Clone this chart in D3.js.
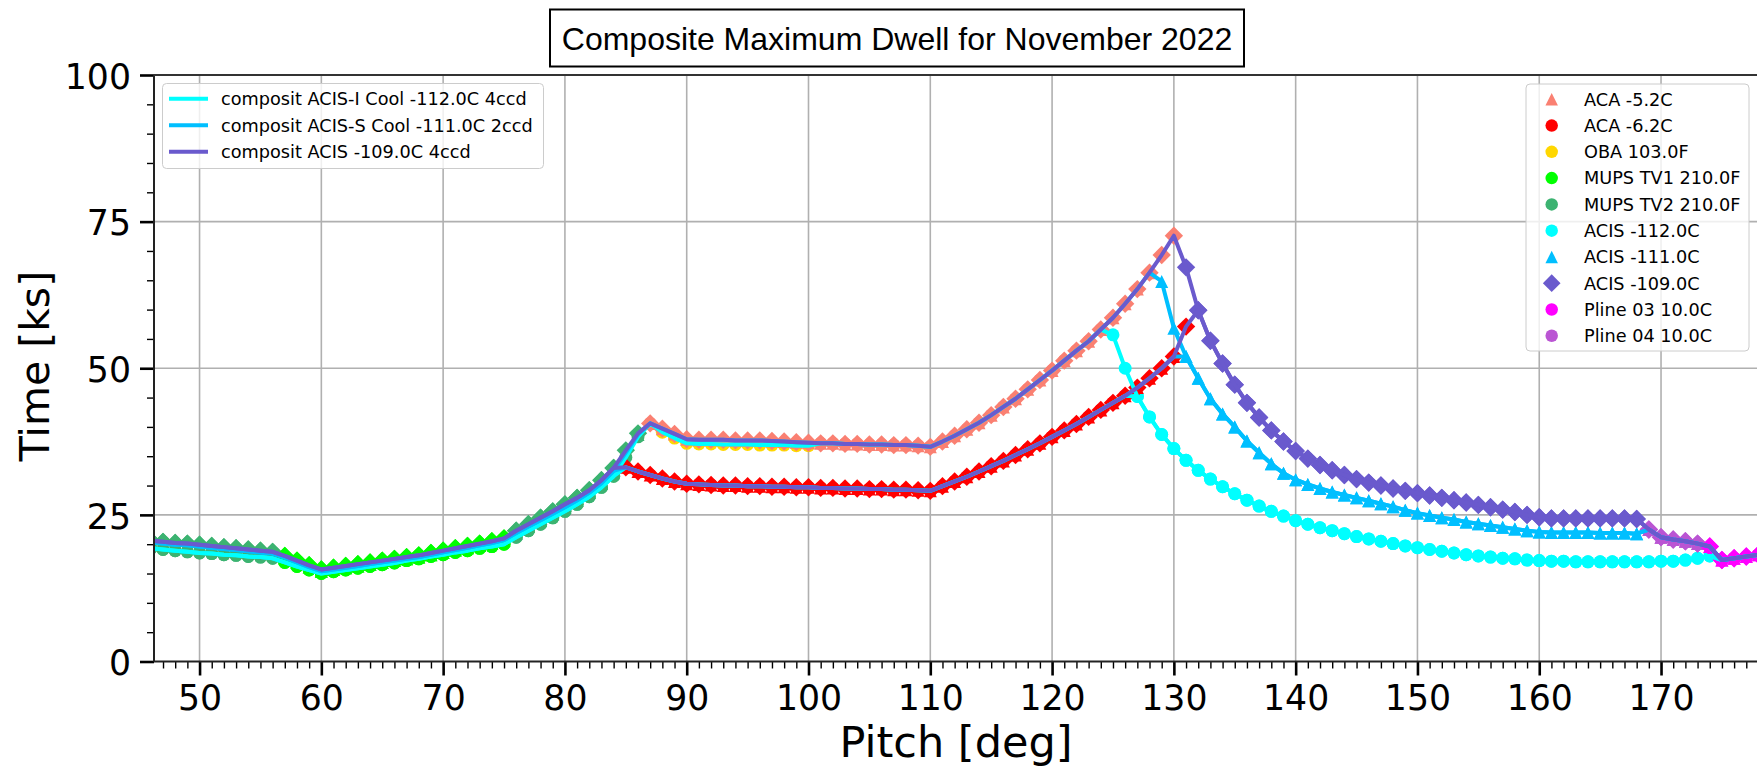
<!DOCTYPE html>
<html>
<head>
  <style>
    body { margin: 0; background: #fff; }
    svg text { font-family: "DejaVu Sans", sans-serif; fill: #000; }
  </style>
</head>
<body>
  <script src="https://d3js.org/d3.v7.min.js"></script>
  <script>
    // ---- data (time in ks per pitch degree) ----
    const mups112Start = 46;
    const mups112 = [19.3, 19.1, 18.9, 18.7, 18.5, 18.4, 18.2, 18.1, 17.9, 17.8, 17.6, 16.9, 16.2, 15.6, 15.0,
      15.3, 15.6, 15.9, 16.2, 16.5, 16.8, 17.2, 17.5, 17.9, 18.2, 18.6, 18.9, 19.3, 19.6, 20.0,
      21.2, 22.3, 23.4, 24.5, 25.6, 26.8, 28.1, 29.7, 31.6, 34.8, 38.3];
    const mups111Start = 46;
    const mups111 = [20.3, 20.1, 19.9, 19.8, 19.6, 19.4, 19.2, 19.0, 18.8, 18.6, 18.4, 17.7, 16.9, 16.1, 15.4,
      15.7, 16.0, 16.3, 16.6, 16.9, 17.2, 17.5, 17.8, 18.2, 18.6, 19.0, 19.4, 19.8, 20.2, 20.7,
      21.9, 23.0, 24.1, 25.2, 26.3, 27.5, 28.8, 30.4, 32.5, 35.6, 38.7];
    const mups109Start = 46;
    const mups109 = [20.6, 20.4, 20.2, 20.1, 19.9, 19.7, 19.5, 19.3, 19.1, 18.9, 18.7, 18.0, 17.2, 16.4, 15.7,
      16.0, 16.3, 16.6, 16.9, 17.2, 17.5, 17.8, 18.1, 18.5, 18.9, 19.3, 19.7, 20.1, 20.5, 21.0,
      22.3, 23.4, 24.5, 25.6, 26.8, 27.9, 29.2, 30.9, 33.0, 36.0, 38.9];
    const acaWarmStart = 87;
    const acaWarm = [40.6, 39.7, 38.8, 37.9, 37.8, 37.8, 37.8, 37.7, 37.7, 37.7, 37.6, 37.5, 37.4, 37.3,
      37.2, 37.2, 37.1, 37.1, 37.0, 37.0, 36.9, 36.9, 36.8, 36.6, 37.5, 38.5, 39.6, 40.7, 42.0,
      43.4, 44.8, 46.4, 48.0, 49.6, 51.3, 53.0, 54.6, 56.6, 58.6, 61.0, 63.5, 66.3, 69.3, 72.6];
    const obaStart = 88;
    const oba = [39.1, 38.1, 37.2, 37.1, 37.1, 37.0, 37.0, 37.0, 36.9, 36.9, 36.9, 36.8, 36.8];
    const acaColdStart = 85;
    const acaCold = [33.1, 32.4, 31.8, 31.2, 30.7, 30.3, 30.2, 30.1, 30.0, 30.0, 29.9, 29.9, 29.8, 29.8,
      29.7, 29.7, 29.6, 29.6, 29.5, 29.5, 29.4, 29.4, 29.3, 29.3, 29.2, 29.1, 29.9, 30.7, 31.5,
      32.4, 33.3, 34.2, 35.2, 36.2, 37.2, 38.3, 39.4, 40.5, 41.7, 42.9, 44.1, 45.3, 46.7, 48.3,
      50.0, 52.0, 57.1];
    const acis112Start = 125;
    const acis112 = [55.7, 50.0, 45.2, 41.7, 38.7, 36.3, 34.3, 32.6, 31.1, 29.8, 28.6, 27.5, 26.5, 25.6,
      24.8, 24.0, 23.4, 22.8, 22.3, 21.8, 21.3, 20.9, 20.5, 20.1, 19.7, 19.4, 19.1, 18.8, 18.5,
      18.2, 18.0, 17.8, 17.6, 17.5, 17.3, 17.2, 17.1, 17.1, 17.0, 17.0, 17.0, 17.0, 17.0, 17.0,
      17.0, 17.1, 17.1, 17.3, 17.6, 18.0];
    const acis111Start = 129;
    const acis111 = [64.8, 56.8, 52.0, 48.3, 44.8, 42.2, 40.0, 37.6, 35.6, 33.7, 32.1, 31.0, 30.2, 29.5,
      28.9, 28.4, 27.9, 27.4, 26.9, 26.4, 25.8, 25.3, 24.9, 24.5, 24.2, 23.8, 23.5, 23.2, 22.9,
      22.6, 22.3, 22.1, 22.0, 22.0, 22.0, 22.0, 21.9, 21.9, 21.9, 21.8];
    const acis109Start = 131;
    const acis109 = [67.2, 59.9, 54.7, 50.8, 47.2, 44.1, 41.6, 39.4, 37.5, 35.9, 34.6, 33.5, 32.6, 31.8,
      31.1, 30.5, 30.0, 29.5, 29.1, 28.7, 28.3, 27.9, 27.5, 27.1, 26.7, 26.3, 25.9, 25.5, 25.0,
      24.6, 24.4, 24.4, 24.4, 24.4, 24.4, 24.4, 24.4, 24.3];
    const plineStart = 169;
    const pline = [22.5, 21.2, 20.8, 20.5, 20.1, 19.6, 17.3, 17.6, 17.9, 18.2, 18.5];

    // which limit sets each composite over which pitch range: [limit, source, from, to]
    const seg112Warm = [["MUPS TV2 210.0F", "mups112", 46, 56], ["MUPS TV1 210.0F", "mups112", 57, 75],
      ["MUPS TV2 210.0F", "mups112", 76, 86], ["ACA -5.2C", "acaWarm", 87, 87], ["OBA 103.0F", "oba", 88, 100],
      ["ACA -5.2C", "acaWarm", 101, 124], ["ACIS -112.0C", "acis112", 125, 174], ["Pline 03 10.0C", "pline", 175, 179]];
    const seg112Cold = [["MUPS TV2 210.0F", "mups112", 46, 56], ["MUPS TV1 210.0F", "mups112", 57, 75],
      ["MUPS TV2 210.0F", "mups112", 76, 84], ["ACA -6.2C", "acaCold", 85, 126],
      ["ACIS -112.0C", "acis112", 127, 174], ["Pline 03 10.0C", "pline", 175, 179]];
    const seg111Warm = [["MUPS TV2 210.0F", "mups111", 46, 56], ["MUPS TV1 210.0F", "mups111", 57, 75],
      ["MUPS TV2 210.0F", "mups111", 76, 86], ["ACA -5.2C", "acaWarm", 87, 128], ["ACIS -111.0C", "acis111", 129, 168],
      ["Pline 04 10.0C", "pline", 169, 173], ["Pline 03 10.0C", "pline", 174, 179]];
    const seg111Cold = [["MUPS TV2 210.0F", "mups111", 46, 56], ["MUPS TV1 210.0F", "mups111", 57, 75],
      ["MUPS TV2 210.0F", "mups111", 76, 84], ["ACA -6.2C", "acaCold", 85, 130], ["ACIS -111.0C", "acis111", 131, 168],
      ["Pline 04 10.0C", "pline", 169, 173], ["Pline 03 10.0C", "pline", 174, 179]];
    const seg109Warm = [["MUPS TV2 210.0F", "mups109", 46, 56], ["MUPS TV1 210.0F", "mups109", 57, 75],
      ["MUPS TV2 210.0F", "mups109", 76, 86], ["ACA -5.2C", "acaWarm", 87, 130], ["ACIS -109.0C", "acis109", 131, 168],
      ["Pline 04 10.0C", "pline", 169, 173], ["Pline 03 10.0C", "pline", 174, 179]];
    const seg109Cold = [["MUPS TV2 210.0F", "mups109", 46, 56], ["MUPS TV1 210.0F", "mups109", 57, 75],
      ["MUPS TV2 210.0F", "mups109", 76, 84], ["ACA -6.2C", "acaCold", 85, 131], ["ACIS -109.0C", "acis109", 132, 168],
      ["Pline 04 10.0C", "pline", 169, 173], ["Pline 03 10.0C", "pline", 174, 179]];

    const limitLabels = ["ACA -5.2C", "ACA -6.2C", "OBA 103.0F", "MUPS TV1 210.0F", "MUPS TV2 210.0F",
      "ACIS -112.0C", "ACIS -111.0C", "ACIS -109.0C", "Pline 03 10.0C", "Pline 04 10.0C"];
    const limitColors = ["#FA8072", "#FF0000", "#FFD700", "#00FF00", "#3CB371",
      "#00FFFF", "#00BFFF", "#6A5ACD", "#FF00FF", "#BA55D3"];
    const limitShapes = ["triangle", "circle", "circle", "circle", "circle",
      "circle", "triangle", "diamond", "circle", "circle"];
    const compLabels = ["composit ACIS-I Cool -112.0C 4ccd", "composit ACIS-S Cool -111.0C 2ccd", "composit ACIS -109.0C 4ccd"];
    const compColors = ["#00FFFF", "#00BFFF", "#6A5ACD"];
    const xTicks = [50, 60, 70, 80, 90, 100, 110, 120, 130, 140, 150, 160, 170];
    const yTicks = [0, 25, 50, 75, 100];

    // ---- layout ----
    const W = 1757, H = 767;
    const pLeft = 154, pRight = 1757, pTop = 75, pBottom = 661.5;

    const sources = {
      mups112: [mups112Start, mups112], mups111: [mups111Start, mups111], mups109: [mups109Start, mups109],
      acaWarm: [acaWarmStart, acaWarm], oba: [obaStart, oba], acaCold: [acaColdStart, acaCold],
      acis112: [acis112Start, acis112], acis111: [acis111Start, acis111], acis109: [acis109Start, acis109],
      pline: [plineStart, pline]
    };
    const colorOf = d3.scaleOrdinal(limitLabels, limitColors);

    const xScale = d3.scaleLinear().domain([46.26, 177.88]).range([pLeft, pRight]);
    const yScale = d3.scaleLinear().domain([0, 100]).range([pBottom, pTop]);

    const svg = d3.select("body").append("svg").attr("width", W).attr("height", H);

    svg.append("defs").append("clipPath").attr("id", "plotclip")
      .append("rect").attr("x", pLeft).attr("y", pTop).attr("width", pRight - pLeft).attr("height", pBottom - pTop);

    // grid
    const grid = svg.append("g").attr("stroke", "#b0b0b0").attr("stroke-width", 1.6);
    grid.selectAll(".gx").data(xTicks).join("line")
      .attr("x1", d => xScale(d)).attr("x2", d => xScale(d)).attr("y1", pTop).attr("y2", pBottom);
    grid.selectAll(".gy").data(yTicks.slice(1, -1)).join("line")
      .attr("x1", pLeft).attr("x2", pRight).attr("y1", d => yScale(d)).attr("y2", d => yScale(d));

    function markerPath(shape, s) {
      const r = s / 2;
      if (shape === "circle") return d3.symbol(d3.symbolCircle, Math.PI * r * r)();
      if (shape === "triangle") return "M0," + (-r) + "L" + r + "," + r + "L" + (-r) + "," + r + "Z";
      const d = r * Math.SQRT2;
      return "M0," + (-d) + "L" + d + ",0L0," + d + "L" + (-d) + ",0Z";
    }

    function buildPoints(segs) {
      const pts = [];
      segs.forEach(([label, key, from, to]) => {
        const [start, vals] = sources[key];
        for (let p = from; p <= to; p++) pts.push({ p: p, v: vals[p - start], label: label });
      });
      return pts;
    }

    const composites = [
      { segs: seg112Warm, shape: "circle", color: compColors[0] },
      { segs: seg112Cold, shape: "circle", color: compColors[0] },
      { segs: seg111Warm, shape: "triangle", color: compColors[1] },
      { segs: seg111Cold, shape: "triangle", color: compColors[1] },
      { segs: seg109Warm, shape: "diamond", color: compColors[2] },
      { segs: seg109Cold, shape: "diamond", color: compColors[2] }
    ];
    composites.forEach(c => c.points = buildPoints(c.segs));

    const plotArea = svg.append("g").attr("clip-path", "url(#plotclip)");

    // markers coloured by the limiting constraint
    composites.forEach(c => {
      plotArea.append("g").selectAll("path").data(c.points).join("path")
        .attr("d", markerPath(c.shape, 13))
        .attr("transform", d => "translate(" + xScale(d.p) + "," + yScale(d.v) + ")")
        .attr("fill", d => colorOf(d.label));
    });

    // composite lines
    const line = d3.line().x(d => xScale(d.p)).y(d => yScale(d.v));
    composites.forEach(c => {
      plotArea.append("path").datum(c.points)
        .attr("d", line).attr("fill", "none")
        .attr("stroke", c.color).attr("stroke-width", 4).attr("stroke-linejoin", "round");
    });

    // axes
    const xAxis = d3.axisBottom(xScale).tickValues(xTicks).tickSize(14).tickPadding(10).tickSizeOuter(0);
    const gx = svg.append("g").attr("transform", "translate(0," + pBottom + ")").call(xAxis);
    gx.select(".domain").remove();
    gx.selectAll(".tick line").attr("stroke-width", 2.6);
    gx.selectAll("text").attr("font-size", 34.7).attr("font-family", "DejaVu Sans");

    const xMinor = d3.range(47, 178).filter(d => d % 10 !== 0);
    const gxm = svg.append("g").attr("transform", "translate(0," + pBottom + ")")
      .call(d3.axisBottom(xScale).tickValues(xMinor).tickSize(7).tickFormat("").tickSizeOuter(0));
    gxm.select(".domain").remove();
    gxm.selectAll(".tick line").attr("stroke-width", 1.4);

    const yAxis = d3.axisLeft(yScale).tickValues(yTicks).tickSize(14).tickPadding(9).tickSizeOuter(0);
    const gy = svg.append("g").attr("transform", "translate(" + pLeft + ",0)").call(yAxis);
    gy.select(".domain").remove();
    gy.selectAll(".tick line").attr("stroke-width", 2.6);
    gy.selectAll("text").attr("font-size", 34.7).attr("font-family", "DejaVu Sans").attr("dy", "0.38em");

    const yMinor = [5, 10, 15, 20, 30, 35, 40, 45, 55, 60, 65, 70, 80, 85, 90, 95];
    const gym = svg.append("g").attr("transform", "translate(" + pLeft + ",0)")
      .call(d3.axisLeft(yScale).tickValues(yMinor).tickSize(7).tickFormat("").tickSizeOuter(0));
    gym.select(".domain").remove();
    gym.selectAll(".tick line").attr("stroke-width", 1.4);

    // spines
    const spines = svg.append("g").attr("stroke", "#222").attr("stroke-width", 2);
    spines.append("line").attr("x1", pLeft).attr("x2", pLeft).attr("y1", pTop).attr("y2", pBottom);
    spines.append("line").attr("x1", pLeft).attr("x2", pRight).attr("y1", pBottom).attr("y2", pBottom);
    spines.append("line").attr("x1", pLeft).attr("x2", pRight).attr("y1", pTop).attr("y2", pTop).attr("stroke", "#333");

    // axis titles
    svg.append("text").attr("x", 956).attr("y", 757).attr("text-anchor", "middle")
      .attr("font-size", 43).text("Pitch [deg]");
    svg.append("text").attr("transform", "translate(49,366) rotate(-90)").attr("text-anchor", "middle")
      .attr("font-size", 41).text("Time [ks]");

    // title box
    svg.append("rect").attr("x", 550).attr("y", 9.5).attr("width", 694).attr("height", 57)
      .attr("fill", "#fff").attr("stroke", "#000").attr("stroke-width", 2);
    svg.append("text").attr("x", 897).attr("y", 50).attr("text-anchor", "middle")
      .style("font-family", "'Liberation Sans', Arial, sans-serif")
      .attr("font-size", 32).text("Composite Maximum Dwell for November 2022");

    // legend of composite lines
    const leg1 = svg.append("g");
    leg1.append("rect").attr("x", 162.5).attr("y", 83.5).attr("width", 381).attr("height", 85).attr("rx", 4)
      .attr("fill", "#fff").attr("fill-opacity", 0.8).attr("stroke", "#ccc");
    compLabels.forEach((lab, i) => {
      const yy = 98.7 + i * 26.5;
      leg1.append("line").attr("x1", 169).attr("x2", 208).attr("y1", yy).attr("y2", yy)
        .attr("stroke", compColors[i]).attr("stroke-width", 4);
      leg1.append("text").attr("x", 221).attr("y", yy).attr("dy", "0.36em").attr("font-size", 17.7).text(lab);
    });

    // legend of limits
    const leg2 = svg.append("g");
    leg2.append("rect").attr("x", 1526).attr("y", 84).attr("width", 223).attr("height", 267).attr("rx", 4)
      .attr("fill", "#fff").attr("fill-opacity", 0.8).attr("stroke", "#ccc");
    limitLabels.forEach((lab, i) => {
      const yy = 99.3 + i * 26.27;
      leg2.append("path").attr("d", markerPath(limitShapes[i], 12.5))
        .attr("transform", "translate(1551.7," + yy + ")").attr("fill", limitColors[i]);
      leg2.append("text").attr("x", 1584).attr("y", yy).attr("dy", "0.36em").attr("font-size", 17.7).text(lab);
    });
  </script>
</body>
</html>
